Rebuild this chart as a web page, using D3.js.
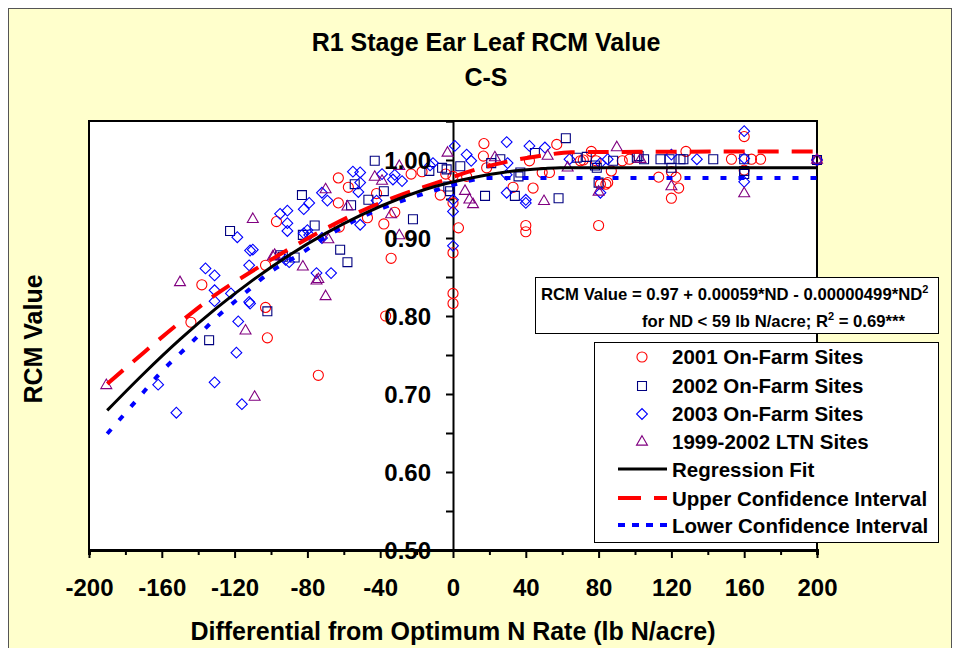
<!DOCTYPE html>
<html>
<head>
<meta charset="utf-8">
<script src="https://cdn.jsdelivr.net/npm/d3@7"></script>
<style>
  body { margin: 0; background: #ffffff; }
  svg text { font-family: Arial, "Liberation Sans", sans-serif; font-weight: bold; fill: #000; }
</style>
</head>
<body>
<div id="chart"></div>
<script>
// ---- data ----
const xTicks = [-200, -160, -120, -80, -40, 0, 40, 80, 120, 160, 200];
const yTicks = [0.5, 0.6, 0.7, 0.8, 0.9, 1.0];
const yTickLabels = ["0.50", "0.60", "0.70", "0.80", "0.90", "1.00"];

// [ND, RCM]
const sites2001 = [[-144,0.792],[-138,0.84],[-103,0.811],[-102,0.772],[-103,0.865],[-97,0.921],[-74,0.724],[-63,0.977],
  [-57.5,0.965],[-63,0.945],[-62.5,0.914],[-47,0.926],[-42,0.957],[-38,0.918],[-37,0.80],[-34,0.874],[-32,0.933],
  [-23,0.982],[-17,0.985],[-7,0.955],[-4,0.982],[0,0.979],[0,0.945],[0,0.881],[0,0.829],[0,0.816],[3,0.913],
  [7.5,0.979],[17,1.021],[16.7,1.005],[18.5,0.99],[33,0.965],[40,0.916],[40,0.908],[42,0.999],[44,0.964],[49,0.984],
  [53,0.984],[57,1.02],[70,0.999],[71.6,1.0],[76,1.011],[78.6,0.999],[80,0.916],[81,0.969],[84,0.969],[85,0.971],
  [87,0.986],[93,0.999],[97,1.001],[113,0.978],[120,0.985],[120,0.951],[122.5,0.978],[124,0.964],[128,1.011],
  [153,1.001],[160,1.03],[160,0.987],[164,1.001],[169,1.001],[200,1.0]];

const sites2002 = [[-134,0.769],[-122.5,0.909],[-102,0.806],[-95,0.878],[-93.5,0.876],[-87,0.875],[-83,0.955],
  [-82.5,0.904],[-76,0.916],[-62,0.885],[-58,0.869],[-56,0.942],[-54,0.969],[-46.5,0.949],[-43,0.999],[-38,0.96],
  [-22,0.924],[-13,0.986],[-6,0.99],[-3.5,0.988],[-2.6,0.966],[-1.6,0.96],[4,0.992],[17.6,0.954],[21,0.996],
  [26,1.001],[34,0.954],[36,0.979],[37,0.984],[45,1.009],[58,0.951],[62,1.028],[68,1.003],[73.5,1.004],[78,0.993],
  [79,0.99],[80,0.971],[88,0.999],[101,1.003],[102,1.005],[105,1.001],[114,1.001],[119,1.001],[120,0.99],
  [125,1.001],[126.6,1.001],[143,1.001],[160,1.001],[160,0.986],[160,0.982],[200,1.0]];

const sites2003 = [[-162,0.712],[-152,0.676],[-136,0.861],[-131,0.852],[-131,0.833],[-131,0.819],[-131,0.715],
  [-122,0.829],[-119,0.753],[-118.5,0.901],[-118,0.793],[-116,0.687],[-112,0.818],[-112,0.865],[-111.5,0.816],
  [-111.5,0.884],[-110,0.885],[-95,0.931],[-92,0.872],[-91,0.935],[-91,0.919],[-91,0.909],[-90,0.869],[-82,0.937],
  [-82,0.906],[-80,0.91],[-79,0.945],[-79,0.904],[-75,0.855],[-72,0.958],[-72,0.9],[-69,0.948],[-67,0.855],
  [-55,0.985],[-52,0.959],[-51,0.984],[-51,0.971],[-51,0.917],[-42,0.948],[-39,0.982],[-33,0.975],[-32,0.981],
  [-28,0.973],[-12.6,0.993],[-11,0.996],[0,0.949],[0,0.934],[0,0.89],[1,1.018],[7.5,1.007],[10,0.999],
  [29.5,1.023],[30,0.996],[29.5,0.981],[29.5,0.958],[40,0.949],[40,0.945],[42,1.018],[50.5,1.016],[64,1.001],
  [81,0.996],[81,0.958],[85,1.001],[120,1.007],[134,1.001],[160,1.037],[160,1.002],[160,0.972],[200,1.0]];

const sitesLTN = [[-190.5,0.711],[-150,0.843],[-114,0.781],[-110,0.924],[-109,0.696],[-99,0.876],[-98,0.878],
  [-82.5,0.863],[-75,0.845],[-74,0.847],[-70,0.962],[-70,0.825],[-68.5,0.898],[-58,0.94],[-43,0.978],[-39,0.973],
  [-34,0.93],[-29.5,0.992],[-29.5,0.903],[-3,1.009],[6.6,0.96],[9,0.949],[11,0.943],[23,1.003],[50,0.947],
  [52,1.005],[63,0.99],[80,0.959],[90,1.016],[103,1.001],[120,0.966],[160,0.957],[200,1.0]];

// fitted curves
const fitND   = [-190, -170, -150, -130, -110, -90, -70, -50, -30, -10, 10, 30, 50, 59, 200];
const fitRCM  = [0.679, 0.726, 0.770, 0.810, 0.846, 0.878, 0.906, 0.930, 0.950, 0.966, 0.977, 0.985, 0.989, 0.990, 0.990];
const upperND  = [-190, -170, -150, -130, -110, -90, -70, -50, -30, -10, 10, 30, 50, 65, 200];
const upperRCM = [0.713, 0.753, 0.792, 0.828, 0.858, 0.886, 0.912, 0.935, 0.954, 0.970, 0.986, 0.998, 1.006, 1.010, 1.011];
const lowerND  = [-190, -175, -160, -145, -130, -115, -100, -85, -70, -50, -30, -10, 0, 10, 20, 200];
const lowerRCM = [0.649, 0.689, 0.729, 0.763, 0.798, 0.828, 0.857, 0.878, 0.901, 0.927, 0.946, 0.961, 0.968, 0.974, 0.977, 0.977];

const legendNames = ["2001 On-Farm Sites", "2002 On-Farm Sites", "2003 On-Farm Sites", "1999-2002 LTN Sites",
  "Regression Fit", "Upper Confidence Interval", "Lower Confidence Interval"];

// ---- layout ----
const width = 954, height = 648;
const plotLeft = 89, plotRight = 817, plotTop = 121, plotBottom = 550;

const svg = d3.select("#chart").append("svg")
  .attr("width", width)
  .attr("height", height);

//yellow chart area
svg.append("rect")
  .attr("x", 8.5).attr("y", 8.5)
  .attr("width", 943).attr("height", 660)
  .attr("fill", "#ffffcc")
  .attr("stroke", "#555")
  .attr("stroke-width", 1);

const x = d3.scaleLinear().domain([-200, 200]).range([plotLeft, plotRight]);
const y = d3.scaleLinear().domain([0.5, 1.05]).range([plotBottom, plotTop]);

//plot area
svg.append("rect")
  .attr("x", plotLeft).attr("y", plotTop)
  .attr("width", plotRight - plotLeft).attr("height", plotBottom - plotTop)
  .attr("fill", "#fff")
  .attr("stroke", "#000")
  .attr("stroke-width", 2);

// titles
svg.append("text").attr("x", 486).attr("y", 51).attr("text-anchor", "middle")
  .attr("font-size", 25).text("R1 Stage Ear Leaf RCM Value");
svg.append("text").attr("x", 486).attr("y", 86).attr("text-anchor", "middle")
  .attr("font-size", 25).text("C-S");
svg.append("text").attr("x", 453).attr("y", 640).attr("text-anchor", "middle")
  .attr("font-size", 25).text("Differential from Optimum N Rate (lb N/acre)");
svg.append("text")
  .attr("transform", "translate(42,339) rotate(-90)")
  .attr("text-anchor", "middle")
  .attr("font-size", 25).text("RCM Value");

// x axis at bottom
const xAxis = svg.append("g").attr("transform", `translate(0,${plotBottom})`);
xAxis.call(d3.axisBottom(x).tickValues(d3.range(-200, 201, 20)).tickSize(5).tickFormat(""));
xAxis.selectAll(".tick line")
  .attr("stroke-width", 2)
  .attr("y2", d => d % 40 === 0 ? 8 : 5);
xAxis.select(".domain").attr("stroke-width", 3);
xAxis.selectAll(".tick")
  .filter(d => xTicks.includes(d))
  .append("text")
  .attr("y", 46)
  .attr("text-anchor", "middle")
  .attr("font-size", 24)
  .attr("fill", "#000")
  .text(d => d);

// y axis through ND = 0
const yAxis = svg.append("g").attr("transform", `translate(${x(0)},0)`);
yAxis.call(d3.axisLeft(y).tickValues(d3.range(0.5, 1.0501, 0.05)).tickSize(7).tickFormat(""));
yAxis.selectAll(".tick line").attr("stroke-width", 2);
yAxis.select(".domain").attr("stroke-width", 2);

// fitted lines
const line = d3.line().x(d => x(d[0])).y(d => y(d[1])).curve(d3.curveMonotoneX);
const upperPts = upperND.map((v, i) => [v, upperRCM[i]]);
const lowerPts = lowerND.map((v, i) => [v, lowerRCM[i]]);
const fitPts = fitND.map((v, i) => [v, fitRCM[i]]);

const series = [
  { data: sites2001, color: "#ff0000", shape: "circle" },
  { data: sites2002, color: "#000080", shape: "square" },
  { data: sites2003, color: "#0000ff", shape: "diamond" },
  { data: sitesLTN, color: "#800080", shape: "triangle" }
];

const symbolPath = shape => {
  if (shape === "circle") return d3.symbol().type(d3.symbolCircle).size(80)();
  if (shape === "square") return d3.symbol().type(d3.symbolSquare).size(80)();
  if (shape === "diamond") return d3.symbol().type(d3.symbolSquare).size(58)();
  return d3.symbol().type(d3.symbolTriangle).size(52)();
};
const symbolTransform = (shape, px, py) =>
  shape === "diamond" ? `translate(${px},${py}) rotate(45)` : `translate(${px},${py})`;

//markers
series.forEach(s => {
  svg.append("g").selectAll("path")
    .data(s.data)
    .join("path")
    .attr("d", symbolPath(s.shape))
    .attr("transform", d => symbolTransform(s.shape, x(d[0]), y(d[1])))
    .attr("fill", "none")
    .attr("stroke", s.color)
    .attr("stroke-width", 1.1);
});

svg.append("path").datum(lowerPts).attr("d", line)
  .attr("fill", "none").attr("stroke", "#0000ff").attr("stroke-width", 4)
  .attr("stroke-dasharray", "6,12");
svg.append("path").datum(upperPts).attr("d", line)
  .attr("fill", "none").attr("stroke", "#ff0000").attr("stroke-width", 4)
  .attr("stroke-dasharray", "21,13");
svg.append("path").datum(fitPts).attr("d", line)
  .attr("fill", "none").attr("stroke", "#000").attr("stroke-width", 3);

// y tick labels drawn over the markers
svg.append("g").selectAll("text")
  .data(yTicks)
  .join("text")
  .attr("x", 431)
  .attr("y", d => y(d))
  .attr("dy", "0.36em")
  .attr("text-anchor", "end")
  .attr("font-size", 24)
  .text((d, i) => yTickLabels[i]);

// equation box
svg.append("rect")
  .attr("x", 535.5).attr("y", 277.5)
  .attr("width", 403).attr("height", 56)
  .attr("fill", "#fff").attr("stroke", "#000").attr("stroke-width", 1);
const eq1 = svg.append("text").attr("x", 541).attr("y", 300).attr("font-size", 16.7);
eq1.append("tspan").text("RCM Value = 0.97 + 0.00059*ND - 0.00000499*ND");
eq1.append("tspan").attr("dy", -7).attr("font-size", 11).text("2");
const eq2 = svg.append("text").attr("x", 642).attr("y", 327).attr("font-size", 16.7);
eq2.append("tspan").text("for ND < 59 lb N/acre; R");
eq2.append("tspan").attr("dy", -7).attr("font-size", 11).text("2");
eq2.append("tspan").attr("dy", 7).text(" = 0.69***");

// legend
svg.append("rect")
  .attr("x", 594.5).attr("y", 342.5)
  .attr("width", 344).attr("height", 200)
  .attr("fill", "#fff").attr("stroke", "#000").attr("stroke-width", 1);

const legendY = [364, 393, 421, 449, 477, 506, 533];
legendNames.forEach((name, i) => {
  const by = legendY[i];
  svg.append("text").attr("x", 672).attr("y", by).attr("font-size", 20.5).text(name);
  if (i < 4) {
    const s = series[i];
    svg.append("path")
      .attr("d", symbolPath(s.shape))
      .attr("transform", symbolTransform(s.shape, 642, by - 7))
      .attr("fill", "none").attr("stroke", s.color).attr("stroke-width", 1.1);
  } else {
    const styles = [
      { c: "#000", w: 3, dash: null },
      { c: "#ff0000", w: 4, dash: "23,13" },
      { c: "#0000ff", w: 4, dash: "7,7" }
    ][i - 4];
    svg.append("line")
      .attr("x1", 618).attr("x2", 667)
      .attr("y1", by - 8).attr("y2", by - 8)
      .attr("stroke", styles.c).attr("stroke-width", styles.w)
      .attr("stroke-dasharray", styles.dash);
  }
});
</script>
</body>
</html>
